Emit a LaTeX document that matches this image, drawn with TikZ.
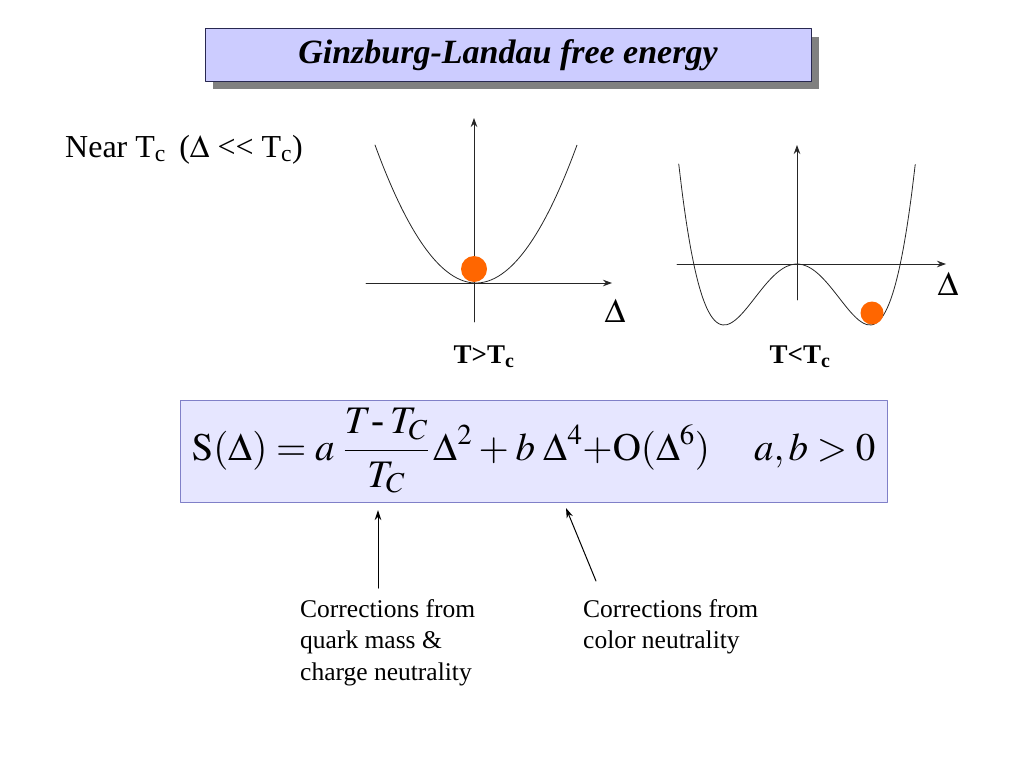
\documentclass[tikz,border=0pt]{standalone}
\usepackage{mathptmx}
\usepackage{fontspec}
\setmainfont{Liberation Serif}
\usepackage{tikz}
\usetikzlibrary{arrows.meta,positioning}
\definecolor{titlefill}{RGB}{204,204,255}
\definecolor{titleline}{RGB}{40,40,80}
\definecolor{eqfill}{RGB}{230,230,255}
\definecolor{eqline}{RGB}{128,128,200}
\definecolor{ballorange}{RGB}{255,102,0}
\begin{document}
\begin{tikzpicture}[
  x=1pt, y=-1pt,
  >=Stealth,
  line cap=round,
  line join=round,
  axis/.style={->, line width=0.8pt, black!85, >={Stealth[length=9pt,width=6.5pt]}},
  curve/.style={line width=0.8pt, black!85, smooth, samples=60},
  ball/.style={circle, fill=ballorange, inner sep=0pt},
  lbl/.style={inner sep=0pt, font=\fontsize{34}{36}\selectfont},
  case/.style={inner sep=0pt, anchor=base, font=\fontsize{27}{30}\selectfont\bfseries},
  note/.style={inner sep=0pt, align=left, font=\fontsize{25.5}{31.5}\selectfont},
  arrow/.style={->, line width=1pt, >={Stealth[length=10pt,width=6.5pt]}}
]
  \useasboundingbox (0,0) rectangle (1024,768);

  % title banner with its shadow
  \fill[gray] (213,37) rectangle (819,89);
  \node[draw=titleline, line width=1pt, fill=titlefill, minimum width=606pt, minimum height=52pt, inner sep=0pt,
        font=\fontsize{34}{36}\selectfont\bfseries\itshape] (title) at (508,55) {Ginzburg-Landau free energy};

  \node[anchor=base west, inner sep=0pt, font=\fontsize{32}{36}\selectfont] (near) at (65,157)
    {Near T\textsubscript{c}\, (\(\Delta\) {<}{<} T\textsubscript{c})};

  % T > Tc : single well
  \coordinate (oA) at (474,283);
  \coordinate (xA0) at (366,283);
  \coordinate (xA1) at (612,283);
  \coordinate (yA0) at (474,322);
  \coordinate (yA1) at (474,118);
  \draw[axis] (xA0) -- (xA1);
  \draw[axis] (yA0) -- (yA1);
  \draw[curve] plot[domain=-1:1] ({476+101*\x},{283-138*\x*\x});
  \node[ball, minimum size=26pt] (ballA) at (474,269) {};
  \node[lbl] (deltaA) at (615,311) {\(\Delta\)};
  \node[case] (hot) at (484,363) {T>T\textsubscript{c}};

  % T < Tc : double well
  \coordinate (oB) at (797,264);
  \coordinate (xB0) at (677,264);
  \coordinate (xB1) at (946,264);
  \coordinate (yB0) at (797,300);
  \coordinate (yB1) at (797,145);
  \draw[axis] (xB0) -- (xB1);
  \draw[axis] (yB0) -- (yB1);
  \draw[curve] plot[domain=-1.62:1.62] ({797+73*\x},{264-61*(\x*\x*\x*\x-2*\x*\x)});
  \node[ball, minimum size=23pt] (ballB) at (872,313) {};
  \node[lbl] (deltaB) at (948,284) {\(\Delta\)};
  \node[case] (cold) at (800,363) {T<T\textsubscript{c}};

  % free energy expansion
  \node[draw=eqline, fill=eqfill, minimum width=707pt, minimum height=102pt, inner sep=0pt] (eq) at (533.5,451)
    {\fontsize{39}{43}\selectfont\thickmuskip=4mu\medmuskip=3mu
     \(\displaystyle \mathrm{S}(\Delta) = a\;\frac{T\kern0pt\mbox{-}\kern6pt T_C}{T_C}\,\Delta^2 + b\;\Delta^4 {+}\mathrm{O}(\Delta^6) \hspace{44pt} a,b>0\)};

  \coordinate (mass) at (378,510);
  \coordinate (color) at (566,508);
  \node[note, anchor=north west] (noteMass) at (300,599)
    {Corrections from\\quark mass \&\\charge neutrality};
  \node[note, anchor=north west] (noteColor) at (583,599)
    {Corrections from\\color neutrality};
  \coordinate (massFoot) at (378,588);
  \coordinate (colorFoot) at (596,581);
  \draw[arrow] (massFoot) -- (mass);
  \draw[arrow] (colorFoot) -- (color);
\end{tikzpicture}
\end{document}
